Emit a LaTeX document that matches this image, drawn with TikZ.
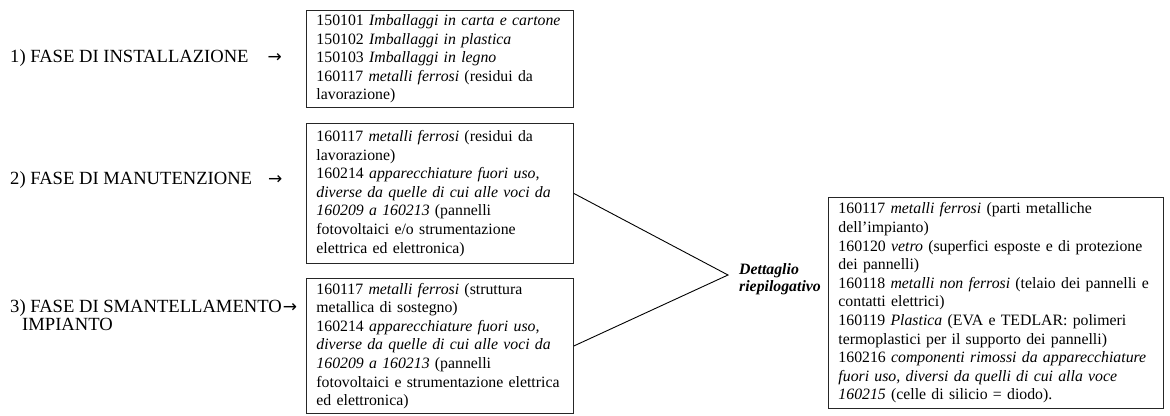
\documentclass[tikz,border=0pt]{standalone}
\usepackage{fontspec}
\setmainfont{Liberation Serif}
\newfontfamily\arrowfont{DejaVu Sans}
\newcommand{\freccia}{{\arrowfont\fontsize{17}{17}\selectfont →}}
\begin{document}
\begin{tikzpicture}[x=1pt,y=-1pt,
  box/.style={draw=black!85,line width=0.9pt,anchor=north west,align=left,
    inner xsep=10pt,inner ysep=3pt,font=\fontsize{15.8}{18.6}\selectfont},
  fase/.style={anchor=west,align=left,inner sep=0pt,font=\fontsize{18.6}{17.5}\selectfont}]
  \useasboundingbox (0,0) rectangle (1170,415);
  % fasi
  \node[fase] (f1) at (10,58) {1) FASE DI INSTALLAZIONE\hspace{19pt}\freccia};
  \node[fase] (f2) at (10,180) {2) FASE DI MANUTENZIONE\hspace{16pt}\freccia};
  \node[fase] (f3) at (10,315) {3) FASE DI SMANTELLAMENTO\hspace{1pt}\freccia\\\hspace*{12pt}IMPIANTO};
  % codici
  \node[box,text width=247pt,minimum height=97pt] (inst) at (306,10)
    {150101 \textit{Imballaggi in carta e cartone}\\
     150102 \textit{Imballaggi in plastica}\\
     150103 \textit{Imballaggi in legno}\\
     160117 \textit{metalli ferrosi} (residui da\\
     lavorazione)};
  \node[box,text width=247pt,minimum height=140pt] (manut) at (306,123)
    {160117 \textit{metalli ferrosi} (residui da\\
     lavorazione)\\
     160214 \textit{apparecchiature fuori uso,}\\
     \textit{diverse da quelle di cui alle voci da}\\
     \textit{160209 a 160213} (pannelli\\
     fotovoltaici e/o strumentazione\\
     elettrica ed elettronica)};
  \node[box,text width=247pt,minimum height=135pt] (smant) at (306,278)
    {160117 \textit{metalli ferrosi} (struttura\\
     metallica di sostegno)\\
     160214 \textit{apparecchiature fuori uso,}\\
     \textit{diverse da quelle di cui alle voci da}\\
     \textit{160209 a 160213} (pannelli\\
     fotovoltaici e strumentazione elettrica\\
     ed elettronica)};
  \node[box,text width=315pt,minimum height=211pt] (riep) at (828,197)
    {160117 \textit{metalli ferrosi} (parti metalliche\\
     dell’impianto)\\
     160120 \textit{vetro} (superfici esposte e di protezione\\
     dei pannelli)\\
     160118 \textit{metalli non ferrosi} (telaio dei pannelli e\\
     contatti elettrici)\\
     160119 \textit{Plastica} (EVA e TEDLAR: polimeri\\
     termoplastici per il supporto dei pannelli)\\
     160216 \textit{componenti rimossi da apparecchiature}\\
     \textit{fuori uso, diversi da quelli di cui alla voce}\\
     \textit{160215} (celle di silicio = diodo).};
  % riepilogo
  \node[anchor=west,align=left,inner sep=0pt,
    font=\bfseries\itshape\fontsize{15.8}{17}\selectfont] (det) at (739,279)
    {Dettaglio\\riepilogativo};
  \coordinate (apex) at ([xshift=-11pt,yshift=4pt]det.west);
  \draw[line width=0.9pt] (manut.east) -- (apex) -- (smant.east);
\end{tikzpicture}
\end{document}
